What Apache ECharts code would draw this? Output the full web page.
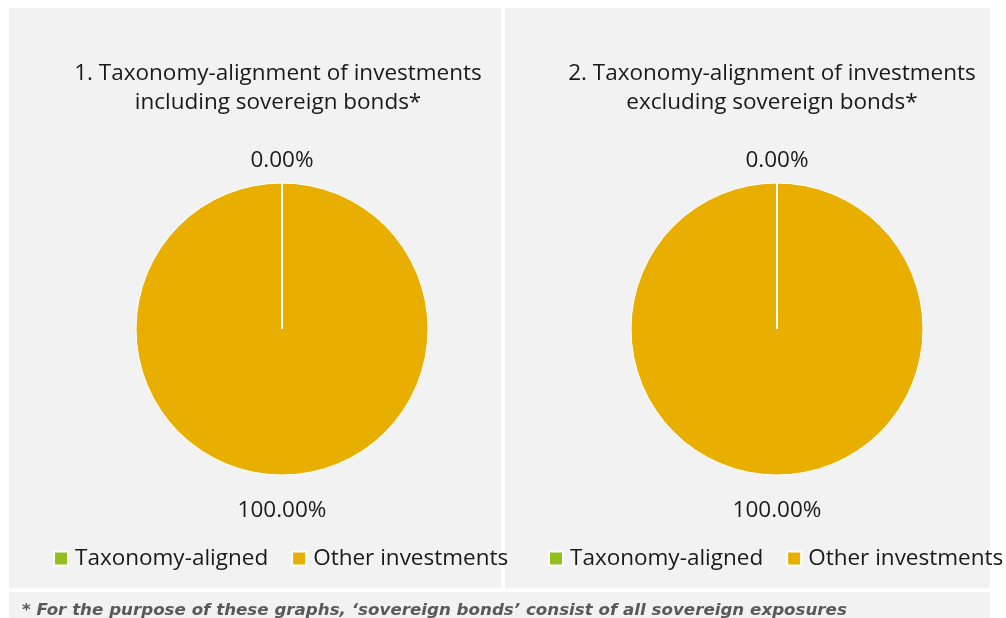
<!DOCTYPE html>
<html>
<head>
<meta charset="utf-8">
<script src="https://cdn.jsdelivr.net/npm/echarts@6/dist/echarts.min.js"></script>
<style>
  html, body { margin: 0; padding: 0; background: #fff; }
  #main { width: 1006px; height: 618px; }
</style>
</head>
<body>
<div id="main"></div>
<script>
// data
const categories = ['Taxonomy-aligned', 'Other investments'];
const inclSovereign = [0, 100];
const exclSovereign = [0, 100];
const chartTitles = [
  '1. Taxonomy-alignment of investments\nincluding sovereign bonds*',
  '2. Taxonomy-alignment of investments\nexcluding sovereign bonds*'
];
const footnote = '* For the purpose of these graphs, \u2018sovereign bonds\u2019 consist of all sovereign exposures';

const colors = ['#93C01F', '#E8AE00'];
const FONT = '"Open Sans", sans-serif';
const FS = 22.5;

const chart = echarts.init(document.getElementById('main'));

// 0 slice sits at the top, the full slice's label goes under the pie
const pieLabelLayout = (params) => {
  const r = params.rect;
  const cx = r.x + r.width / 2;
  if (params.dataIndex === 0) {
    return { x: cx, y: r.y - 22, align: 'center', verticalAlign: 'middle' };
  }
  return { x: cx, y: r.y + r.height + 35, align: 'center', verticalAlign: 'middle' };
};

const makePie = (values, center) => ({
  type: 'pie',
  center: center,
  radius: 146,
  startAngle: 90,
  clockwise: true,
  avoidLabelOverlap: false,
  data: categories.map((name, i) => ({ name: name, value: values[i] })),
  itemStyle: { borderColor: '#ffffff', borderWidth: 1 },
  label: {
    show: true,
    position: 'outside',
    formatter: (p) => p.value.toFixed(2) + '%',
    fontFamily: FONT,
    fontSize: FS,
    color: '#1a1a1a'
  },
  labelLine: { show: false },
  labelLayout: pieLabelLayout,
  emphasis: { disabled: true },
  silent: true
});

const makeLegend = (left) => ({
  left: left,
  top: 542,
  width: 480,
  orient: 'horizontal',
  icon: 'rect',
  itemWidth: 14,
  itemHeight: 14,
  itemGap: 23,
  selectedMode: false,
  data: categories,
  textStyle: {
    fontFamily: FONT,
    fontSize: FS,
    color: '#1a1a1a',
    padding: [0, 0, 0, 2]
  }
});

const titleStyle = { fontFamily: FONT, fontSize: FS, fontWeight: 'normal', color: '#1a1a1a', lineHeight: 29 };

const option = {
  backgroundColor: '#ffffff',
  color: colors,
  animation: false,
  graphic: [
    { id: 'bg1', type: 'rect', z: -10, shape: { x: 9, y: 8, width: 492, height: 580 }, style: { fill: '#f2f2f2' } },
    { id: 'bg2', type: 'rect', z: -10, shape: { x: 505, y: 8, width: 485, height: 580 }, style: { fill: '#f2f2f2' } },
    { id: 'bg3', type: 'rect', z: -10, shape: { x: 9, y: 592, width: 981, height: 40 }, style: { fill: '#f2f2f2' } }
  ],
  title: [
    { text: chartTitles[0], left: 273, top: 54, textAlign: 'center', textStyle: titleStyle },
    { text: chartTitles[1], left: 767, top: 54, textAlign: 'center', textStyle: titleStyle },
    {
      text: footnote,
      left: 17,
      top: 597,
      textStyle: {
        fontFamily: '"DejaVu Sans", Verdana, sans-serif',
        fontSize: 16.7,
        fontWeight: 'bold',
        fontStyle: 'italic',
        color: '#595959'
      }
    }
  ],
  legend: [makeLegend(48), makeLegend(543)],
  series: [
    makePie(inclSovereign, [282, 329]),
    makePie(exclSovereign, [777, 329])
  ]
};

chart.setOption(option);

// the 0% slice has no area, excel still draws its edge as a white radius;
// take the slice geometry from the pie's own layout
const sliceEdges = [];
[0, 1].forEach((si) => {
  const data = chart.getModel().getSeriesByIndex(si).getData();
  const lay = data.getItemLayout(0);
  if (!lay) return;
  sliceEdges.push({
    id: 'edge' + si,
    type: 'line',
    z: 10,
    silent: true,
    shape: {
      x1: lay.cx, y1: lay.cy,
      x2: lay.cx + lay.r * Math.cos(lay.startAngle),
      y2: lay.cy + lay.r * Math.sin(lay.startAngle)
    },
    style: { stroke: '#ffffff', lineWidth: 2 }
  });
});
chart.setOption({ graphic: sliceEdges });

window.addEventListener('resize', () => chart.resize());
</script>
</body>
</html>
